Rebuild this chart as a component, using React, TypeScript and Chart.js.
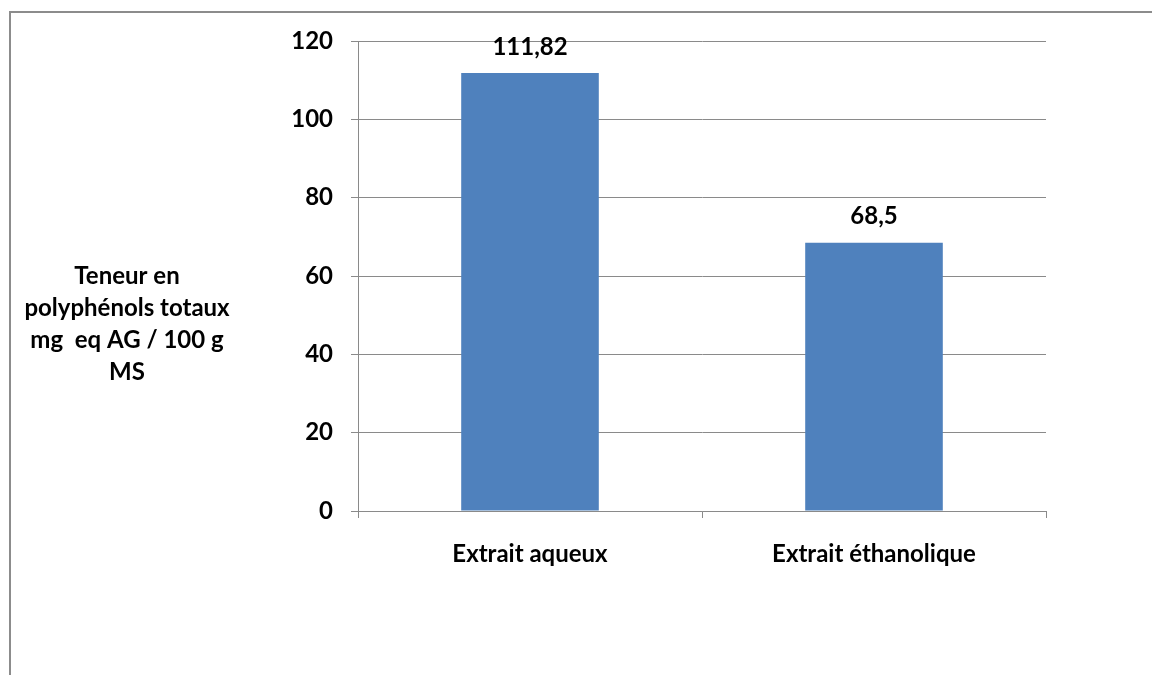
import React, { useEffect, useRef } from "react";
import { Chart, registerables } from "chart.js";

Chart.register(...registerables);

const categories = ["Extrait aqueux", "Extrait éthanolique"];
const values = [111.82, 68.5];
const yTitleLines = ["Teneur en", "polyphénols totaux", "mg  eq AG / 100 g", "MS"];
const yMin = 0;
const yMax = 120;
const yStep = 20;

const FONT = "Lato, 'Open Sans', sans-serif";
const FONT_SIZE = 24;
const BAR_COLOR = "#4F81BD";
const GRID_COLOR = "#8a8a8a";

const formatValue = (v: number) => String(v).replace(".", ",");

export default function App() {
  const canvasRef = useRef<HTMLCanvasElement | null>(null);

  useEffect(() => {
    const canvas = canvasRef.current;
    if (!canvas) return;

    // frame, value labels above bars and the horizontal y-axis title
    const decorations = {
      id: "decorations",
      beforeDraw(chart: any) {
        const ctx = chart.ctx;
        ctx.save();
        ctx.fillStyle = "#ffffff";
        ctx.fillRect(0, 0, chart.width, chart.height);
        ctx.strokeStyle = "#8c8c8c";
        ctx.lineWidth = 2;
        ctx.beginPath();
        ctx.moveTo(10, chart.height + 5);
        ctx.lineTo(10, 12);
        ctx.lineTo(chart.width + 5, 12);
        ctx.stroke();
        ctx.restore();
      },
      afterDatasetsDraw(chart: any) {
        const ctx = chart.ctx;
        ctx.save();
        ctx.fillStyle = "#000000";
        ctx.font = `bold ${FONT_SIZE}px ${FONT}`;
        ctx.textAlign = "center";
        ctx.textBaseline = "middle";
        const meta = chart.getDatasetMeta(0);
        meta.data.forEach((bar: any, i: number) => {
          ctx.fillText(formatValue(values[i]), bar.x, bar.y - 26);
        });

        const lineH = 32;
        const cx = 127;
        const cy = 324;
        const startY = cy - ((yTitleLines.length - 1) * lineH) / 2;
        yTitleLines.forEach((line, i) => {
          ctx.fillText(line, cx, startY + i * lineH);
        });
        ctx.restore();
      },
    };

    const chart = new Chart(canvas, {
      type: "bar",
      data: {
        labels: categories,
        datasets: [
          {
            data: values,
            backgroundColor: BAR_COLOR,
            borderWidth: 0,
            barPercentage: 0.4,
            categoryPercentage: 1,
          },
        ],
      },
      options: {
        responsive: false,
        animation: false,
        devicePixelRatio: 1,
        layout: { padding: { left: 0, right: 106, top: 41, bottom: 0 } },
        plugins: {
          legend: { display: false },
          tooltip: { enabled: false },
        },
        scales: {
          x: {
            grid: {
              offset: true,
              drawOnChartArea: false,
              drawTicks: true,
              tickLength: 7,
              color: GRID_COLOR,
            },
            border: { display: true, color: GRID_COLOR, width: 1 },
            ticks: {
              color: "#000000",
              font: { family: FONT, size: FONT_SIZE, weight: "bold" },
              padding: 22,
              maxRotation: 0,
            },
            afterFit(scale: any) {
              scale.height = 164;
            },
          },
          y: {
            min: yMin,
            max: yMax,
            grid: {
              color: GRID_COLOR,
              drawTicks: true,
              tickLength: 7,
            },
            border: { display: true, color: GRID_COLOR, width: 1 },
            ticks: {
              stepSize: yStep,
              color: "#000000",
              font: { family: FONT, size: FONT_SIZE, weight: "bold" },
              padding: 18,
            },
            afterFit(scale: any) {
              scale.width = 358;
            },
          },
        },
      },
      plugins: [decorations],
    });

    return () => chart.destroy();
  }, []);

  return (
    <div style={{ position: "fixed", left: 0, top: 0, width: 1152, height: 675, background: "#fff" }}>
      <canvas ref={canvasRef} width={1152} height={675} style={{ display: "block" }} />
    </div>
  );
}
